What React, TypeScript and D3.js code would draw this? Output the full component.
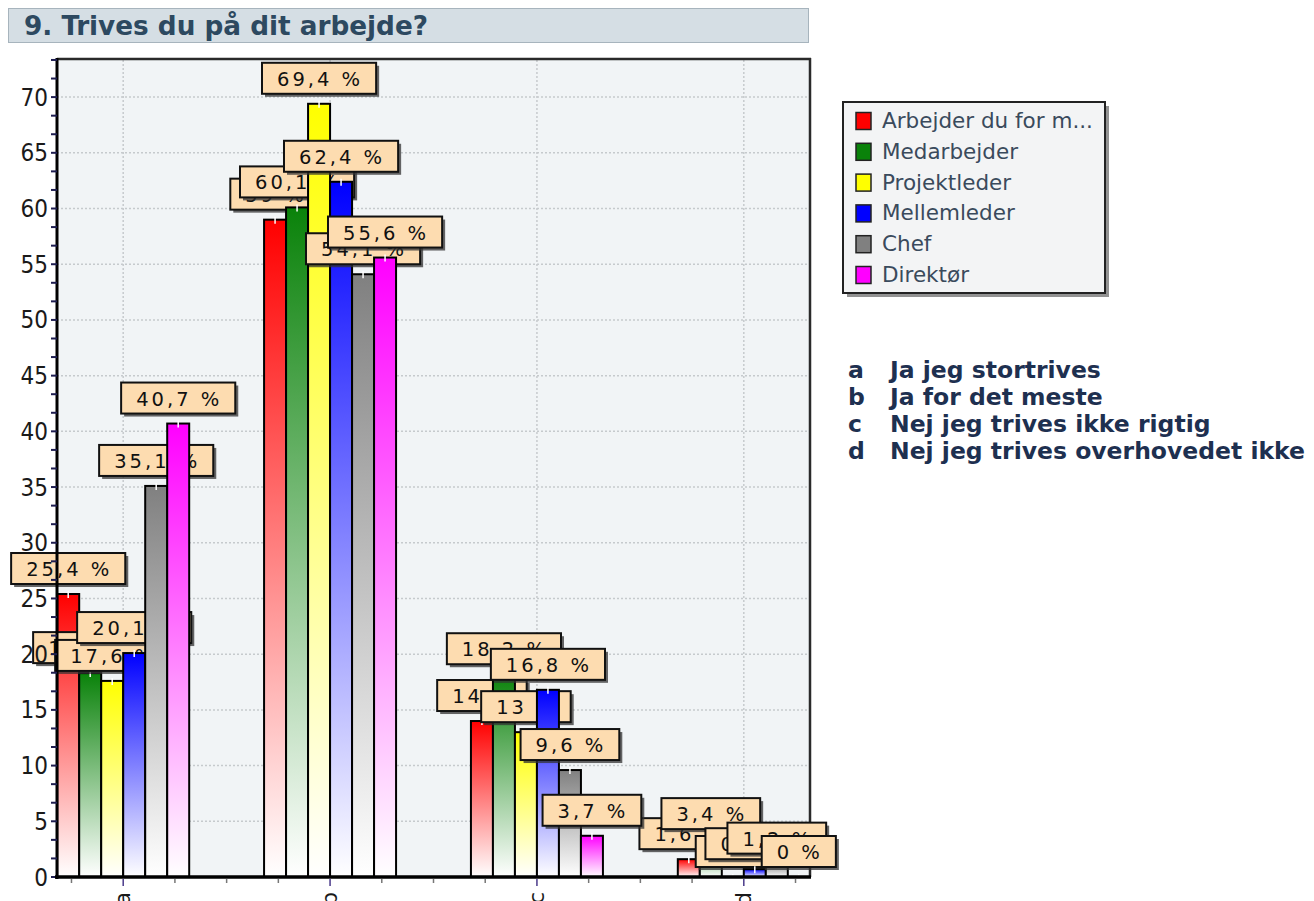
import React from "react";
import * as d3 from "d3";

// Answer categories on the x axis
const categories = ["a", "b", "c", "d"];
const categoryTexts = [
  "Ja jeg stortrives",
  "Ja for det meste",
  "Nej jeg trives ikke rigtig",
  "Nej jeg trives overhovedet ikke",
];

// Respondent groups (series) and their colours
const seriesNames = [
  "Arbejder du for m...",
  "Medarbejder",
  "Projektleder",
  "Mellemleder",
  "Chef",
  "Direktør",
];
const seriesColors = ["#ff0000", "#0a820a", "#ffff00", "#0000ff", "#808080", "#ff00ff"];

// Percentages per series, in category order a, b, c, d
const redValues = [25.4, 59, 14, 1.6];
const greenValues = [18.3, 60.1, 18.2, 3.4];
const yellowValues = [17.6, 69.4, 13, 0];
const blueValues = [20.1, 62.4, 16.8, 0.7];
const grayValues = [35.1, 54.1, 9.6, 1.2];
const magentaValues = [40.7, 55.6, 3.7, 0];
const seriesValues = [redValues, greenValues, yellowValues, blueValues, grayValues, magentaValues];

const yMax = 73.33;
const yTickStep = 5 / 3;
const yLabelStep = 5;

const fmt = (v: number) =>
  (Number.isInteger(v) ? String(v) : v.toFixed(1).replace(".", ",")) + " %";

export default function App() {
  const W = 1314;
  const H = 901;
  const left = 57;
  const right = 810;
  const top = 60;
  const bottom = 877;

  const y = d3.scaleLinear().domain([0, yMax]).range([bottom, top]);
  const x = d3.scalePoint<string>().domain(categories).range([left, right]).padding(0.32);
  const step = x.step();
  const barW = 22;
  const nS = seriesNames.length;

  const yTicks = d3.range(0, Math.round(yMax / yTickStep) + 1).map((i) => i * yTickStep);
  const yLabels = d3.range(0, 71, yLabelStep);
  const grid = d3.range(5, 71, 5);

  const firstC = x(categories[0])!;
  const lastC = x(categories[categories.length - 1])!;
  const xTicks = d3.range(firstC - step / 4, lastC + step / 4 + 1, step / 4);

  const labelFont = 19.5;
  const ls = 3;
  const charW = (c: string) => {
    if (/[0-9]/.test(c)) return 0.636;
    if (c === ",") return 0.318;
    if (c === " ") return 0.318;
    if (c === "%") return 0.95;
    return 0.6;
  };
  const textWidth = (s: string) =>
    s.split("").reduce((acc, c) => acc + charW(c) * labelFont + ls, 0);

  return (
    <svg width={W} height={H} style={{ display: "block", position: "absolute", left: 0, top: 0 }}>
      <defs>
        {seriesColors.map((c, i) => (
          <linearGradient key={i} id={`g${i}`} x1="0" y1="0" x2="0" y2="1">
            <stop offset="0" stopColor={c} />
            <stop offset="1" stopColor="#ffffff" />
          </linearGradient>
        ))}
      </defs>
      <rect width={W} height={H} fill="#ffffff" />

      {/* Title bar */}
      <rect x={8.5} y={8.5} width={800} height={34} fill="#d5dee4" stroke="#a7b4bd" strokeWidth={1} />
      <text
        x={24}
        y={35}
        fontFamily="'DejaVu Sans Condensed', 'DejaVu Sans', sans-serif"
        fontWeight="bold"
        fontSize={26}
        fill="#2d4960"
        textLength={404}
        lengthAdjust="spacingAndGlyphs"
      >
        9. Trives du på dit arbejde?
      </text>

      {/* Plot background */}
      <rect x={left} y={top - 2} width={right - left} height={bottom - top + 2} fill="#f1f4f6" />

      {/* Grid */}
      {grid.map((g) => (
        <line key={g} x1={left} x2={right} y1={y(g)} y2={y(g)} stroke="#c6cacd" strokeWidth={1.5} strokeDasharray="2 2" />
      ))}
      {categories.map((c) => (
        <line key={c} x1={x(c)} x2={x(c)} y1={top} y2={bottom} stroke="#c6cacd" strokeWidth={1.5} strokeDasharray="2 2" />
      ))}

      {/* Frame */}
      <line x1={left} x2={right + 1} y1={top - 1} y2={top - 1} stroke="#2a2a2a" strokeWidth={2.5} />
      <line x1={right} x2={right} y1={top - 2} y2={bottom} stroke="#2a2a2a" strokeWidth={2.5} />

      {/* Bars and value labels, drawn series by series */}
      {seriesValues.map((vals, s) => (
        <g key={s}>
          {categories.map((c, ci) => {
            const v = vals[ci];
            const bx = x(c)! + (s - nS / 2) * barW;
            const by = y(v);
            return (
              <g key={c}>
                <rect
                  x={bx}
                  y={by}
                  width={barW}
                  height={bottom - by}
                  fill={`url(#g${s})`}
                  stroke="#000"
                  strokeWidth={2}
                />
                <line x1={bx + barW / 2} x2={bx + barW / 2} y1={by - 3} y2={by + 4} stroke="#fff" strokeWidth={1.5} />
              </g>
            );
          })}
          {categories.map((c, ci) => {
            const v = vals[ci];
            const cx = x(c)! + (s - nS / 2 + 0.5) * barW;
            const t = fmt(v);
            const bw = textWidth(t) + 28;
            const bh = 31;
            const bb = y(v) - 10;
            return (
              <g key={"l" + c}>
                <rect x={cx - bw / 2 + 3} y={bb - bh + 3} width={bw} height={bh} fill="#333" opacity={0.75} />
                <rect x={cx - bw / 2} y={bb - bh} width={bw} height={bh} fill="#fddcb0" stroke="#111" strokeWidth={2} />
                <text
                  x={cx - bw / 2 + 15}
                  y={bb - bh / 2 + 7.5}
                  fontFamily="'DejaVu Sans', sans-serif"
                  fontSize={labelFont}
                  letterSpacing={ls}
                  fill="#111"
                >
                  {t}
                </text>
              </g>
            );
          })}
        </g>
      ))}

      {/* Y axis */}
      <line x1={left} x2={left} y1={top - 2} y2={bottom + 2} stroke="#000" strokeWidth={3} />
      {yTicks.map((t, i) => (
        <line key={i} x1={left - 6} x2={left} y1={y(t)} y2={y(t)} stroke="#1e1e50" strokeWidth={2} />
      ))}
      {yLabels.map((t) => (
        <text
          key={t}
          x={48}
          y={y(t) + 8.5}
          textAnchor="end"
          fontFamily="'DejaVu Sans Condensed', 'DejaVu Sans', sans-serif"
          fontSize={24}
          fill="#1a1a1a"
        >
          {t}
        </text>
      ))}

      {/* X axis */}
      <line x1={left - 2} x2={right + 1} y1={bottom} y2={bottom} stroke="#000" strokeWidth={3.5} />
      {xTicks.map((t, i) => {
        const isCenter = categories.some((c) => Math.abs(x(c)! - t) < 1);
        return (
          <line
            key={i}
            x1={t}
            x2={t}
            y1={bottom + 2}
            y2={bottom + (isCenter ? 9 : 6)}
            stroke={isCenter ? "#4a3a8a" : "#777"}
            strokeWidth={1.5}
          />
        );
      })}
      {categories.map((c) => (
        <text
          key={c}
          transform={`translate(${x(c)! + 7},${892}) rotate(-90)`}
          textAnchor="end"
          fontFamily="'DejaVu Sans', sans-serif"
          fontSize={22}
          fill="#1a1a1a"
        >
          {c}
        </text>
      ))}

      {/* Legend */}
      <rect x={847} y={106} width={262} height={191} fill="#777" opacity={0.8} />
      <rect x={843} y={102} width={262} height={191} fill="#f3f4f5" stroke="#222" strokeWidth={2} />
      {seriesNames.map((n, i) => {
        const cy = 121 + i * 30.8;
        return (
          <g key={n}>
            <rect x={856} y={cy - 8.5} width={15} height={17} fill={seriesColors[i]} stroke="#222" strokeWidth={1.5} />
            <text
              x={882}
              y={cy + 7}
              fontFamily="'DejaVu Sans', sans-serif"
              fontSize={21.5}
              fill="#3a4a5c"
            >
              {n}
            </text>
          </g>
        );
      })}

      {/* Category descriptions */}
      {categories.map((c, i) => (
        <g key={c} fontFamily="'DejaVu Sans', Verdana, sans-serif" fontWeight="bold" fontSize={23.5} fill="#1e3050">
          <text x={848} y={378 + i * 27}>{c}</text>
          <text x={890} y={378 + i * 27}>{categoryTexts[i]}</text>
        </g>
      ))}
    </svg>
  );
}
